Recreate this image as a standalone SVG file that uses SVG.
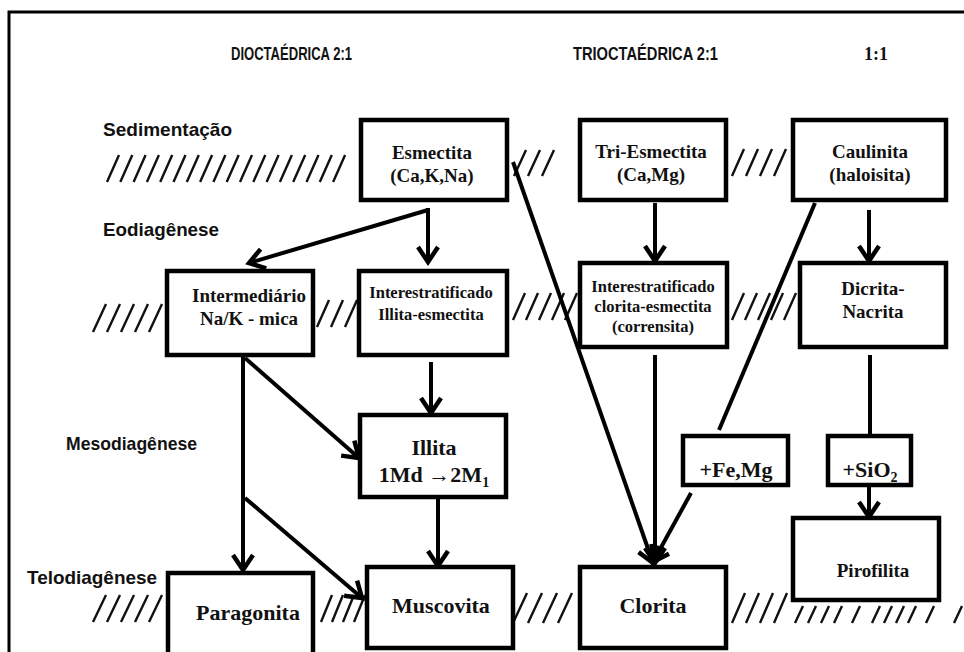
<svg xmlns="http://www.w3.org/2000/svg" width="964" height="652" viewBox="0 0 964 652">
<style>
.box{fill:#fff;stroke:#000;stroke-width:4.5}
.t{font-family:"Liberation Serif","Times New Roman",serif;font-weight:bold;fill:#111;text-anchor:middle}
.s{font-family:"Liberation Sans",Arial,sans-serif;font-weight:bold;fill:#111}
.c{fill:none;stroke:#000;stroke-width:4}
.h{fill:none;stroke:#111;stroke-width:2.4}
</style>
<defs>
<marker id="ar" markerUnits="userSpaceOnUse" viewBox="-20 -14 24 28" markerWidth="24" markerHeight="28" refX="0" refY="0" orient="auto">
<polyline points="-15,-10 0,0 -15,10" fill="none" stroke="#000" stroke-width="4.5"/>
</marker>
</defs>
<rect width="964" height="652" fill="#fff"/>
<path d="M9,652 V12 H964" fill="none" stroke="#000" stroke-width="3"/>

<g id="headers">
<text class="s" x="231" y="60" font-size="17.5" textLength="121" lengthAdjust="spacingAndGlyphs">DIOCTAÉDRICA 2:1</text>
<text class="s" x="573" y="60" font-size="17.5" textLength="145" lengthAdjust="spacingAndGlyphs">TRIOCTAÉDRICA 2:1</text>
<text class="t" x="876" y="60" font-size="18">1:1</text>
</g>
<g id="stages">
<text class="s" x="103" y="136" font-size="18.5" textLength="129" lengthAdjust="spacingAndGlyphs">Sedimentação</text>
<text class="s" x="103" y="236" font-size="18.5" textLength="116" lengthAdjust="spacingAndGlyphs">Eodiagênese</text>
<text class="s" x="66" y="450" font-size="18.5" textLength="131" lengthAdjust="spacingAndGlyphs">Mesodiagênese</text>
<text class="s" x="27" y="584" font-size="18.5" textLength="130" lengthAdjust="spacingAndGlyphs">Telodiagênese</text>
</g>

<g id="hatches" class="h">
<path d="M107,182 l12,-27 m1.3,27 l12,-27 m1.3,27 l12,-27 m1.3,27 l12,-27 m1.3,27 l12,-27 m1.3,27 l12,-27 m1.3,27 l12,-27 m1.3,27 l12,-27 m1.3,27 l12,-27 m1.3,27 l12,-27 m1.3,27 l12,-27 m1.3,27 l12,-27 m1.3,27 l12,-27 m1.3,27 l12,-27 m1.3,27 l12,-27 m1.3,27 l12,-27 m1.3,27 l12,-27 m1.3,27 l12,-27"/>
<path d="M514,176 l12,-26 m2,26 l12,-26 m2,26 l12,-26"/>
<path d="M732,176 l12,-27 m2,27 l12,-27 m2,27 l12,-27 m2,27 l12,-27"/>
<path d="M93,332 l13,-28 m1,28 l13,-28 m1,28 l13,-28 m1,28 l13,-28 m1,28 l13,-28"/>
<path d="M317,327 l12,-27 m2,27 l12,-27 m2,27 l12,-27"/>
<path d="M513,320 l12,-27 m1,27 l12,-27 m1,27 l12,-27 m1,27 l12,-27 m1,27 l12,-27"/>
<path d="M732,320 l12,-27 m1,27 l12,-27 m1,27 l12,-27 m1,27 l12,-27 m1,27 l12,-27"/>
<path d="M93,622 l13,-27 m1,27 l13,-27 m1,27 l13,-27 m1,27 l13,-27 m1,27 l13,-27"/>
<path d="M321,622 l11,-27 m0,27 l11,-27 m0,27 l11,-27 m0,27 l11,-27"/>
<path d="M513,623 l14,-30 m1,30 l14,-30 m1,30 l14,-30 m1,30 l14,-30"/>
<path d="M732,623 l13,-30 m1,30 l13,-30 m1,30 l13,-30 m1,30 l13,-30"/>
<path d="M795,623 l8,-17 m5,17 l8,-17 m5,17 l8,-17 m5,17 l8,-17 m10,17 l8,-17 m12,17 l8,-17 m4,17 l8,-17 m4,17 l8,-17 m4,17 l8,-17 m10,17 l8,-17 m20,17 l8,-17"/>
</g>

<g id="connectors" class="c">
<path d="M428,208 V262" marker-end="url(#ar)"/>
<path d="M428,210 L249,263" marker-end="url(#ar)"/>
<path d="M513,162 L653,563" marker-end="url(#ar)"/>
<path d="M655,203 V261" marker-end="url(#ar)"/>
<path d="M815,203 L719,430"/>
<path d="M691,493 L653,562" marker-end="url(#ar)"/>
<path d="M869,210 V261" marker-end="url(#ar)"/>
<path d="M655,355 V563" marker-end="url(#ar)"/>
<path d="M870,355 V436"/>
<path d="M869,485 V517" marker-end="url(#ar)"/>
<path d="M431,362 V413" marker-end="url(#ar)"/>
<path d="M245,358 L359,458" marker-end="url(#ar)"/>
<path d="M243,356 V570" marker-end="url(#ar)"/>
<path d="M245,498 L362,598" marker-end="url(#ar)"/>
<path d="M438,497 V566" marker-end="url(#ar)"/>
</g>

<g id="esmectita"><rect class="box" x="361" y="120" width="146" height="80"/>
<text class="t" x="432" y="159" font-size="19">Esmectita</text><text class="t" x="432" y="182" font-size="19">(Ca,K,Na)</text></g>
<g id="tri-esmectita"><rect class="box" x="580" y="120" width="146" height="80"/>
<text class="t" x="651" y="158" font-size="19">Tri-Esmectita</text><text class="t" x="651" y="181" font-size="19">(Ca,Mg)</text></g>
<g id="caulinita"><rect class="box" x="793" y="120" width="153" height="80"/>
<text class="t" x="870" y="158" font-size="19">Caulinita</text><text class="t" x="870" y="181" font-size="19">(haloisita)</text></g>
<g id="intermediario"><rect class="box" x="167" y="271" width="146" height="84"/>
<text class="t" x="249" y="302" font-size="19">Intermediário</text><text class="t" x="249" y="325" font-size="19">Na/K - mica</text></g>
<g id="illita-esmectita"><rect class="box" x="359" y="271" width="148" height="84"/>
<text class="t" x="431" y="298" font-size="16.5">Interestratificado</text><text class="t" x="431" y="320" font-size="16.5">Illita-esmectita</text></g>
<g id="clorita-esmectita"><rect class="box" x="580" y="263" width="147" height="84"/>
<text class="t" x="653" y="292" font-size="16.5">Interestratificado</text><text class="t" x="653" y="312" font-size="16.5">clorita-esmectita</text><text class="t" x="653" y="332" font-size="16.5">(corrensita)</text></g>
<g id="dicrita"><rect class="box" x="800" y="263" width="146" height="84"/>
<text class="t" x="873" y="295" font-size="19">Dicrita-</text><text class="t" x="873" y="318" font-size="19">Nacrita</text></g>
<g id="illita"><rect class="box" x="360" y="415" width="146" height="82"/>
<text class="t" x="434" y="455" font-size="22">Illita</text><text class="t" x="434" y="482" font-size="22">1Md →2M<tspan font-size="14" dy="5">1</tspan></text></g>
<g id="fe-mg"><rect class="box" x="683" y="436" width="105" height="49"/>
<text class="t" x="736" y="477" font-size="22">+Fe,Mg</text></g>
<g id="sio2"><rect class="box" x="828" y="436" width="83" height="49"/>
<text class="t" x="870" y="477" font-size="22">+SiO<tspan font-size="14" dy="5">2</tspan></text></g>
<g id="pirofilita"><rect class="box" x="793" y="518" width="146" height="82"/>
<text class="t" x="873" y="577" font-size="19">Pirofilita</text></g>
<g id="paragonita"><rect class="box" x="168" y="573" width="145" height="82"/>
<text class="t" x="248" y="620" font-size="22">Paragonita</text></g>
<g id="muscovita"><rect class="box" x="367" y="567" width="146" height="81"/>
<text class="t" x="441" y="613" font-size="22">Muscovita</text></g>
<g id="clorita"><rect class="box" x="580" y="567" width="146" height="81"/>
<text class="t" x="653" y="613" font-size="22">Clorita</text></g>
</svg>
